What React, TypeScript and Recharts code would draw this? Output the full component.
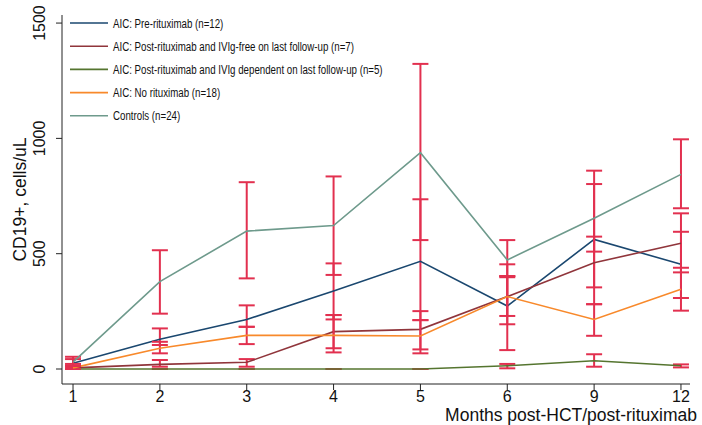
import { LineChart, Line, XAxis, YAxis, ErrorBar } from "recharts";

const months = ["1", "2", "3", "4", "5", "6", "9", "12"];
const yTicks = [0, 500, 1000, 1500];

// means and error-bar ends (cells/uL)
const preRitux = [25, 129, 215, 338, 467, 273, 562, 454];
const preRituxLo = [5, 104, 183, 215, 212, 194, 354, 308];
const preRituxHi = [43, 176, 276, 458, 736, 454, 802, 595];

const postFree = [5, 20, 29, 162, 172, 314, 461, 545];
const postFreeLo = [0, 10, 10, 90, 85, 230, 281, 419];
const postFreeHi = [15, 39, 43, 234, 251, 398, 574, 675];

const postDep = [0, 0, 0, 0, 0, 14, 36, 14];
const postDepLo = [0, 0, 0, 0, 0, 3, 10, 7];
const postDepHi = [0, 0, 0, 0, 0, 22, 64, 20];

const noRitux = [5, 90, 146, 146, 143, 314, 215, 346];
const noRituxLo = [0, 68, 108, 72, 68, 82, 144, 253];
const noRituxHi = [22, 118, 183, 234, 212, 403, 281, 439];

const controls = [30, 379, 598, 622, 938, 473, 654, 844];
const controlsLo = [13, 240, 393, 408, 559, 403, 509, 697];
const controlsHi = [53, 515, 810, 835, 1323, 559, 860, 996];

const series = [
  { key: "pre", name: "AIC: Pre-rituximab (n=12)", color: "#1a476f" },
  { key: "free", name: "AIC: Post-rituximab and IVIg-free on last follow-up (n=7)", color: "#90353b" },
  { key: "dep", name: "AIC: Post-rituximab and IVIg dependent on last follow-up (n=5)", color: "#55752f" },
  { key: "noR", name: "AIC: No rituximab (n=18)", color: "#f8892b" },
  { key: "ctrl", name: "Controls (n=24)", color: "#6e9a8c" },
];

const err = (m: number[], lo: number[], hi: number[], i: number) => [m[i] - lo[i], hi[i] - m[i]];

const data = months.map((m, i) => ({
  idx: i,
  pre: preRitux[i],
  preErr: err(preRitux, preRituxLo, preRituxHi, i),
  free: postFree[i],
  freeErr: err(postFree, postFreeLo, postFreeHi, i),
  dep: postDep[i],
  depErr: err(postDep, postDepLo, postDepHi, i),
  noR: noRitux[i],
  noRErr: err(noRitux, noRituxLo, noRituxHi, i),
  ctrl: controls[i],
  ctrlErr: err(controls, controlsLo, controlsHi, i),
}));

const errColor = "#e2304f";
const axisFont = "'Liberation Sans', Arial, sans-serif";

const YTick = (props: any) => {
  const { x, y, payload } = props;
  const bx = x - 9;
  return (
    <text x={bx} y={y} transform={`rotate(-90 ${bx} ${y})`} textAnchor="middle"
      fontSize={16} fontFamily={axisFont} fill="#111">
      {payload.value}
    </text>
  );
};

const XTick = (props: any) => {
  const { x, y, payload } = props;
  return (
    <text x={x} y={y + 10} textAnchor="middle" fontSize={16} fontFamily={axisFont} fill="#111">
      {months[payload.value]}
    </text>
  );
};

function LegendBox() {
  return (
    <svg width={420} height={130} style={{ position: "absolute", left: 0, top: 0 }}>
      {series.map((s, i) => {
        const y = 23 + i * 23.2;
        return (
          <g key={s.key}>
            <line x1={70} x2={108} y1={y} y2={y} stroke={s.color} strokeWidth={1.6} />
            <text transform={`translate(113 ${y + 4.5}) scale(0.72 1)`} fontSize={13.5} fill="#111"
              fontFamily={axisFont}>
              {s.name}
            </text>
          </g>
        );
      })}
    </svg>
  );
}

export default function App() {
  return (
    <div style={{ position: "absolute", left: 0, top: 0, width: 702, height: 425, background: "#fff" }}>
      <LineChart width={702} height={425} data={data} margin={{ top: 15, right: 12, bottom: 0, left: 0 }}>
        <XAxis
          dataKey="idx"
          type="number"
          domain={[-0.127, 7.104]}
          ticks={[0, 1, 2, 3, 4, 5, 6, 7]}
          height={41}
          stroke="#222"
          tickSize={6}
          tick={<XTick />}
          label={{
            content: () => (
              <text x={697} y={421} textAnchor="end" fontSize={17.5} fontFamily={axisFont} fill="#111">
                Months post-HCT/post-rituximab
              </text>
            ),
          }}
        />
        <YAxis
          type="number"
          domain={[-65, 1535]}
          ticks={yTicks}
          width={62}
          stroke="#222"
          tickSize={6}
          tick={<YTick />}
          label={{
            content: (p: any) => {
              const cy = p.viewBox.y + p.viewBox.height / 2;
              return (
                <text x={26} y={cy} transform={`rotate(-90 26 ${cy})`} textAnchor="middle"
                  fontSize={17.5} fontFamily={axisFont} fill="#111">
                  CD19+, cells/uL
                </text>
              );
            },
          }}
        />
        {series.map((s) => (
          <Line key={s.key} type="linear" dataKey={s.key} stroke={s.color} strokeWidth={1.6}
            dot={false} isAnimationActive={false}>
            <ErrorBar dataKey={`${s.key}Err`} width={8} stroke={errColor} strokeWidth={2} direction="y" />
          </Line>
        ))}
      </LineChart>
      <LegendBox />
    </div>
  );
}
